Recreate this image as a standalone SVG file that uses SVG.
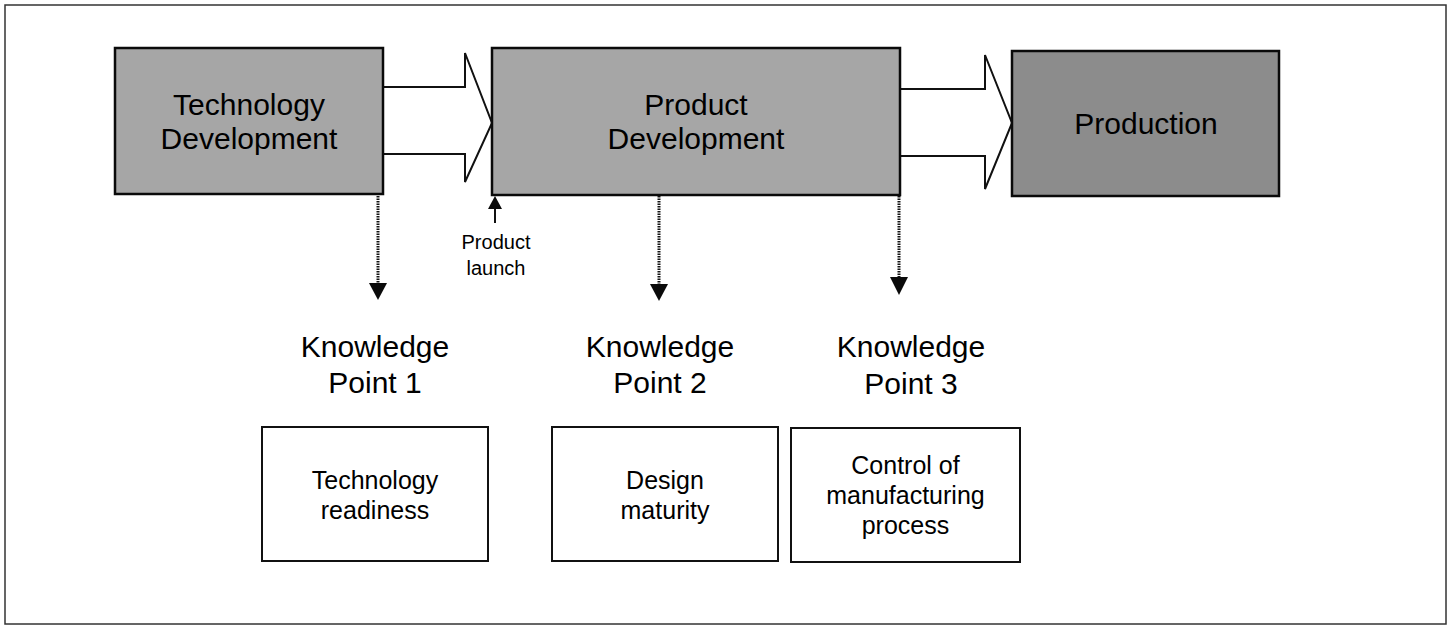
<svg xmlns="http://www.w3.org/2000/svg" width="1450" height="625" viewBox="0 0 1450 625">
  <defs>
    <style>
      .phase { stroke: #0a0a0a; stroke-width: 2.5; }
      .light { fill: #a6a6a6; }
      .dark { fill: #8c8c8c; }
      .big { font-family: "Liberation Sans", Arial, sans-serif; font-size: 30px; fill: #000; text-anchor: middle; }
      .mid { font-family: "Liberation Sans", Arial, sans-serif; font-size: 25px; fill: #000; text-anchor: middle; }
      .small { font-family: "Liberation Sans", Arial, sans-serif; font-size: 20px; fill: #000; text-anchor: middle; }
      .kbox { fill: #fff; stroke: #111; stroke-width: 2; }
      .flow { fill: #fff; stroke: #111; stroke-width: 2; stroke-linejoin: miter; }
      .dotted { stroke: #111; stroke-width: 3; stroke-dasharray: 1.5 1; fill: none; }
      .head { fill: #0a0a0a; }
    </style>
  </defs>

  <rect id="frame" x="5" y="5" width="1441" height="619" fill="#fff" stroke="#333" stroke-width="1.5"/>

  <g id="connectors">
    <path class="flow" d="M383,87 H465 V53 L492,123 L465,182 V154 H383"/>
    <path class="flow" d="M900,89 H985 V55 L1012,123 L985,189 V156 H900"/>
    <line class="dotted" x1="378" y1="196" x2="378" y2="285"/>
    <polygon class="head" points="369,283 387,283 378,300"/>
    <line class="dotted" x1="659" y1="196" x2="659" y2="286"/>
    <polygon class="head" points="650,284 668,284 659,301"/>
    <line class="dotted" x1="899" y1="196" x2="899" y2="279"/>
    <polygon class="head" points="890,277 908,277 899,295"/>
    <line x1="495" y1="223" x2="495" y2="206" stroke="#111" stroke-width="2"/>
    <polygon class="head" points="488,209 502,209 495,196"/>
  </g>

  <g id="technology-development">
    <rect class="phase light" x="115" y="48" width="268" height="146"/>
    <text class="big" x="249" y="115">Technology</text>
    <text class="big" x="249" y="149">Development</text>
  </g>

  <g id="product-development">
    <rect class="phase light" x="492" y="48" width="408" height="147"/>
    <text class="big" x="696" y="115">Product</text>
    <text class="big" x="696" y="149">Development</text>
  </g>

  <g id="production">
    <rect class="phase dark" x="1012" y="51" width="267" height="145"/>
    <text class="big" x="1146" y="134">Production</text>
  </g>

  <g id="product-launch">
    <text class="small" x="496" y="249">Product</text>
    <text class="small" x="496" y="275">launch</text>
  </g>

  <g id="knowledge-point-1">
    <text class="big" x="375" y="357">Knowledge</text>
    <text class="big" x="375" y="393">Point 1</text>
  </g>
  <g id="knowledge-point-2">
    <text class="big" x="660" y="357">Knowledge</text>
    <text class="big" x="660" y="393">Point 2</text>
  </g>
  <g id="knowledge-point-3">
    <text class="big" x="911" y="357">Knowledge</text>
    <text class="big" x="911" y="394">Point 3</text>
  </g>

  <g id="technology-readiness">
    <rect class="kbox" x="262" y="427" width="226" height="134"/>
    <text class="mid" x="375" y="489">Technology</text>
    <text class="mid" x="375" y="519">readiness</text>
  </g>
  <g id="design-maturity">
    <rect class="kbox" x="552" y="427" width="226" height="134"/>
    <text class="mid" x="665" y="489">Design</text>
    <text class="mid" x="665" y="519">maturity</text>
  </g>
  <g id="control-of-manufacturing">
    <rect class="kbox" x="791" y="428" width="229" height="134"/>
    <text class="mid" x="905.5" y="474">Control of</text>
    <text class="mid" x="905.5" y="504">manufacturing</text>
    <text class="mid" x="905.5" y="534">process</text>
  </g>
</svg>
